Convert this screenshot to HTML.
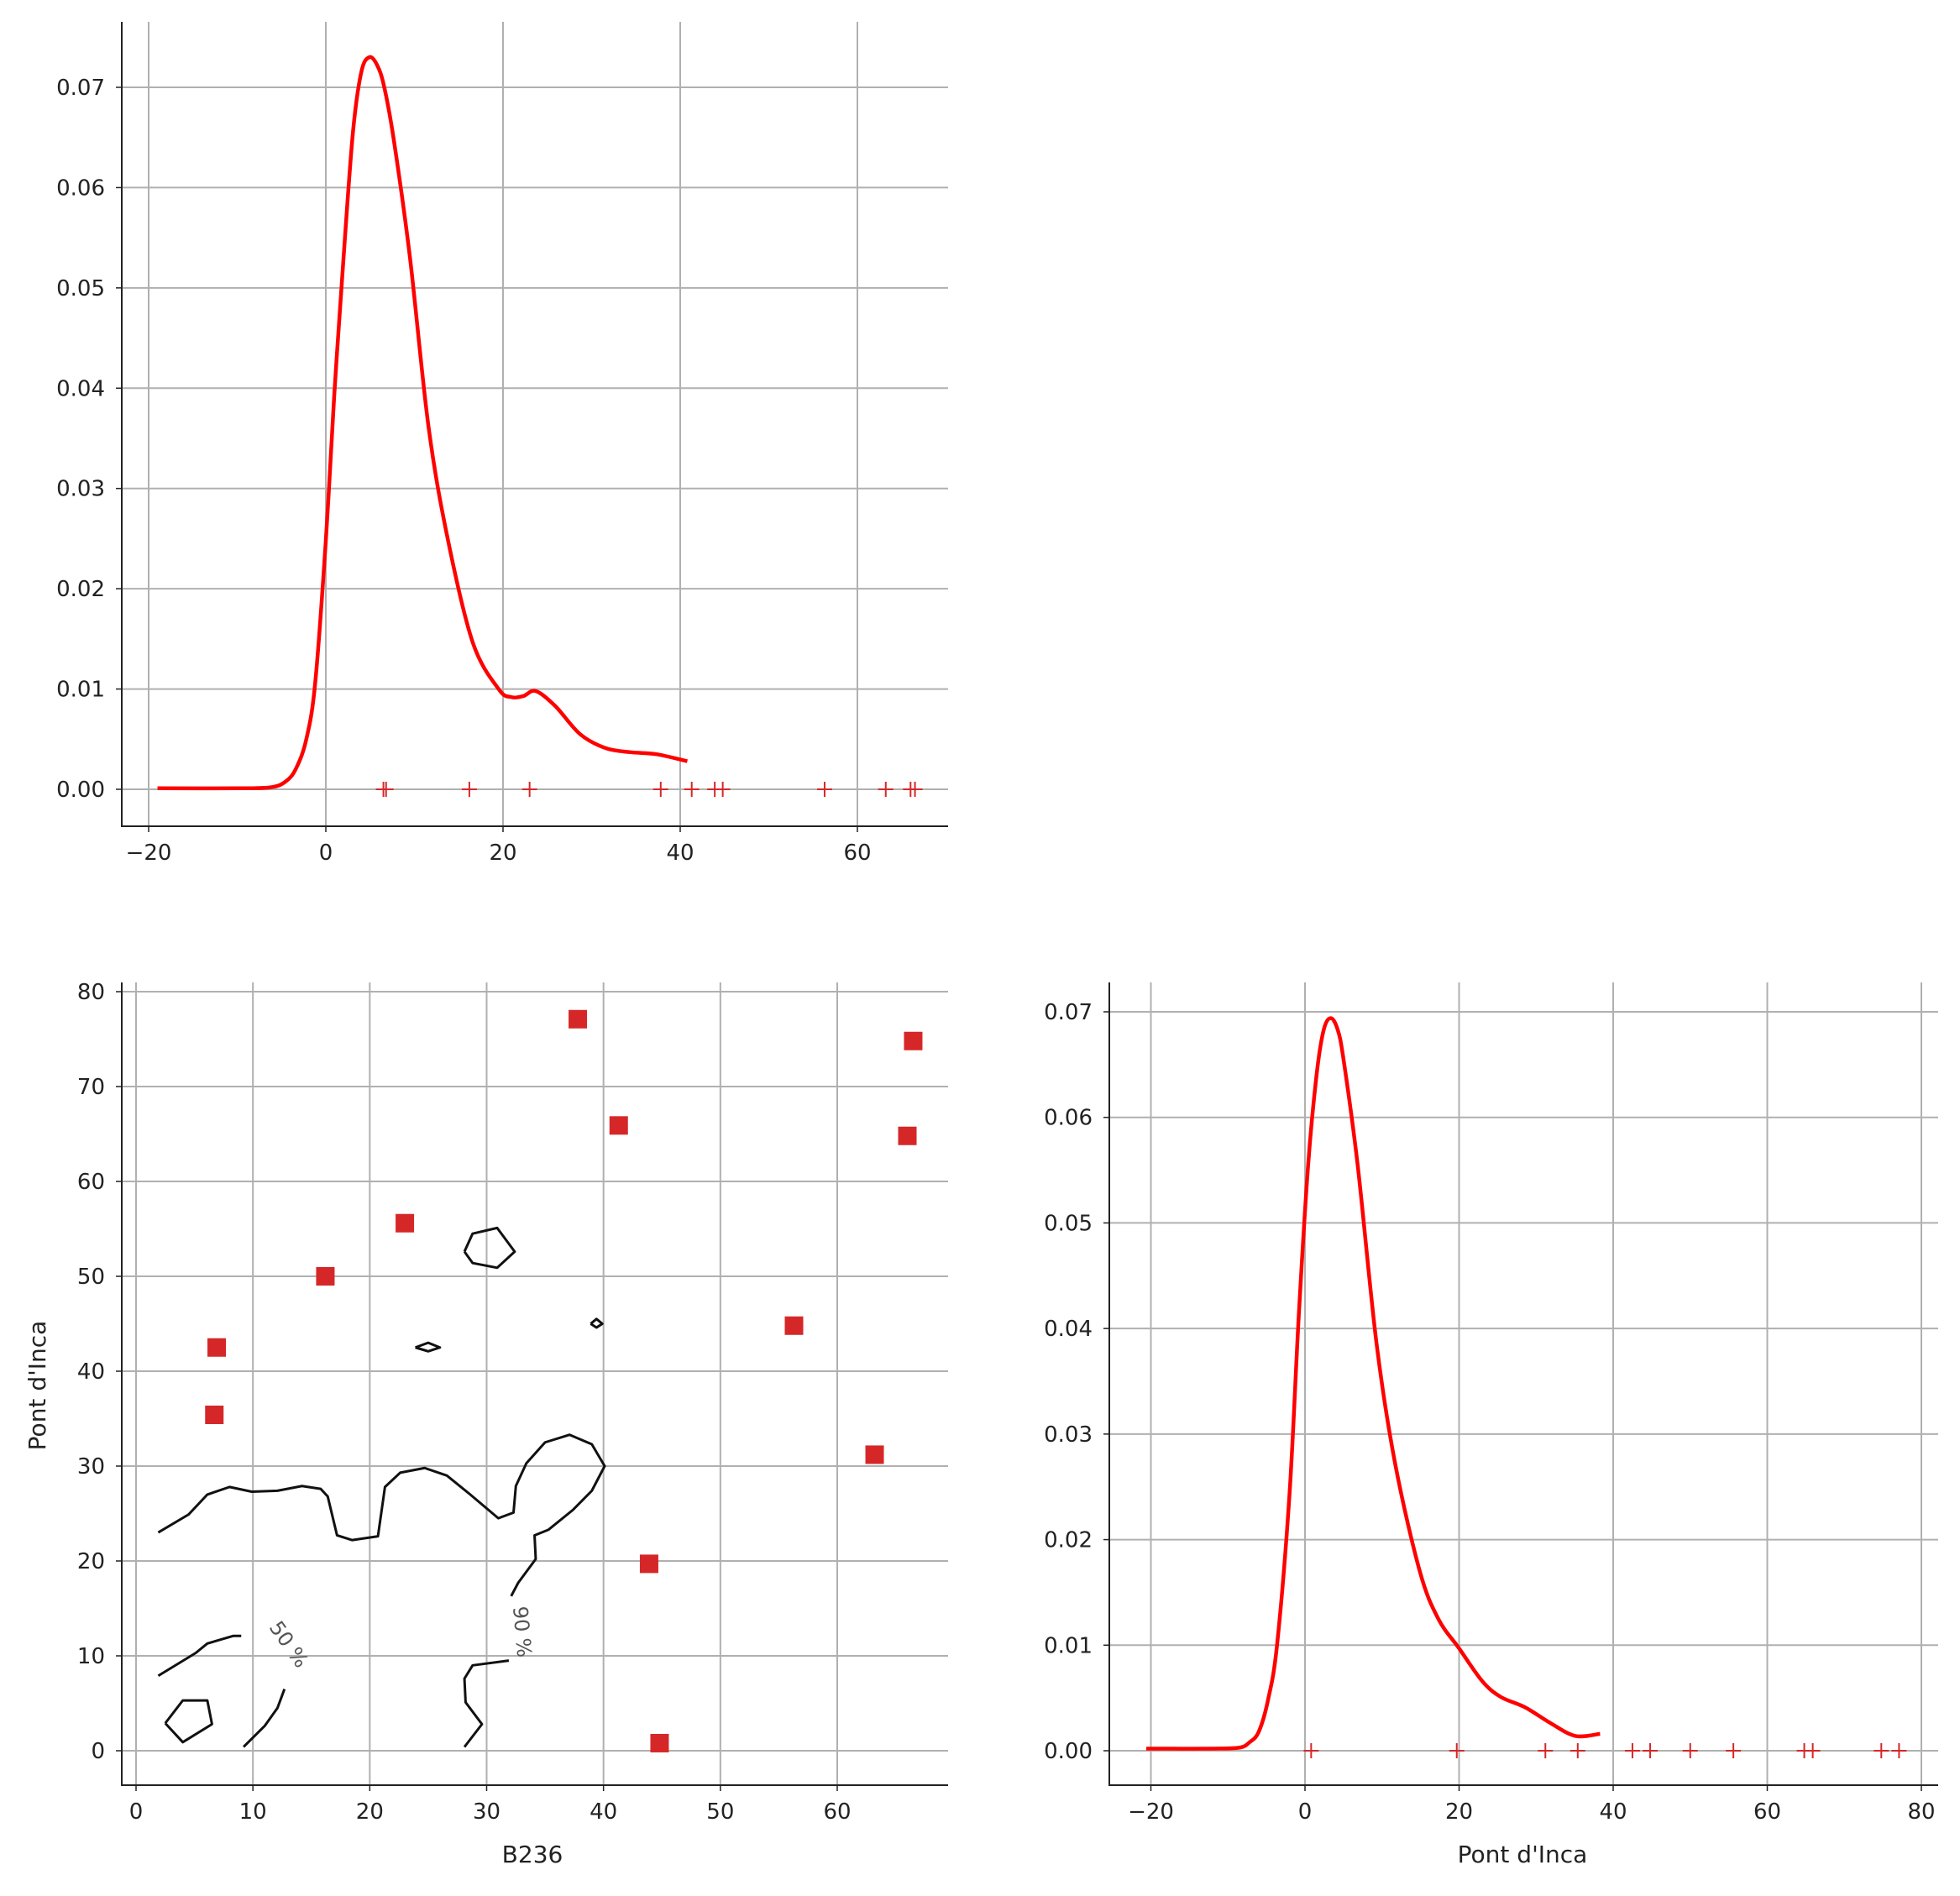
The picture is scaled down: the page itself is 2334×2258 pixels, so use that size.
<!DOCTYPE html>
<html><head><meta charset="utf-8"><style>
html,body{margin:0;padding:0;background:#fff}
svg text{font-family:"DejaVu Sans","Liberation Sans",sans-serif;fill:#222}
</style></head><body>
<svg id="fig" width="2334" height="2253" viewBox="0 0 2334 2253" xmlns="http://www.w3.org/2000/svg">
<rect width="2334" height="2253" fill="#fff"/>
</svg>
<script>
// ---- top KDE (B236)
const kdeTopX=[-19,-10,-6.2,-4.5,-3.35,-2.2,-1.2,0,0.93,2.0,3.06,4.0,4.9,5.8,6.6,7.7,9.5,11.6,13.8,16.6,19.5,20.9,22.3,23.7,25.9,28.7,31.6,34.4,37.3,40.8];
const kdeTopY=[0.0001,0.0001,0.0002,0.0008,0.0021,0.0050,0.0106,0.0248,0.039,0.053,0.0655,0.0715,0.0730,0.0722,0.0700,0.0646,0.053,0.0361,0.0248,0.0146,0.0100,0.0092,0.0093,0.0098,0.0083,0.0055,0.0041,0.0037,0.0035,0.0028];
const b236=[6.5,6.8,16.2,23.0,37.8,41.3,43.9,44.8,56.3,63.2,66.0,66.5];
const pontInca=[0.8,19.7,31.2,35.4,42.5,44.8,50.0,55.6,64.8,65.9,74.8,77.1];
// scatter pairs
const scatX=[37.8,66.5,41.3,66.0,23.0,16.2,56.3,6.9,6.7,63.2,43.9,44.8];
const scatY=[77.1,74.8,65.9,64.8,55.6,50.0,44.8,42.5,35.4,31.2,19.7,0.8];
// right KDE (Pont d'Inca)
const kdeRX=[-20.6,-12,-8.5,-7.2,-6.0,-4.8,-3.6,-2.0,-0.8,0.4,1.5,2.4,3.3,4.2,5.0,6.85,9.3,11.7,14.9,17.3,20.0,23.0,25.4,28.6,31.9,35.1,38.3];
const kdeRY=[0.0002,0.0002,0.0003,0.0008,0.0018,0.0048,0.0102,0.0244,0.0413,0.0554,0.0640,0.0682,0.0694,0.0684,0.0655,0.0554,0.0385,0.0272,0.017,0.0125,0.0097,0.0066,0.0051,0.0041,0.0026,0.0014,0.0016];
// tick labels
const topXTicks=[-20,0,20,40,60];
const densTicks=[0,0.01,0.02,0.03,0.04,0.05,0.06,0.07];
const scXTicks=[0,10,20,30,40,50,60];
const scYTicks=[0,10,20,30,40,50,60,70,80];
const rXTicks=[-20,0,20,40,60,80];
// contours (data coords)
const contour90=[[1.9,23.0],[4.5,24.9],[6.1,27.0],[8.0,27.8],[9.9,27.3],[12.1,27.4],[14.2,27.9],[15.8,27.6],[16.4,26.8],[17.2,22.7],[18.5,22.2],[20.7,22.6],[21.3,27.8],[22.6,29.3],[24.7,29.8],[26.6,29.0],[28.5,27.1],[31.0,24.5],[32.3,25.1],[32.5,27.9],[33.4,30.3],[35.0,32.5],[37.1,33.3],[39.0,32.3],[40.1,30.0],[39.0,27.4],[37.4,25.4],[35.3,23.3],[34.1,22.7],[34.2,20.2],[32.7,17.7],[32.1,16.3]];
const contourB=[[31.9,9.5],[28.8,9.0],[28.1,7.6],[28.2,5.1],[29.6,2.8],[28.1,0.4]];
const contourC=[[1.9,7.9],[5.1,10.3],[6.1,11.3],[8.3,12.1],[9.0,12.1]];
const contourD=[[9.2,0.4],[11.0,2.6],[12.1,4.5],[12.7,6.5]];
const contourE=[[2.5,2.9],[4.0,5.3],[6.1,5.3],[6.5,2.8],[4.0,0.9],[2.5,2.9]];
const contourF=[[28.1,52.6],[28.8,54.5],[30.9,55.1],[32.4,52.6],[30.9,50.9],[28.8,51.4],[28.1,52.6]];
const contourG=[[23.9,42.5],[25.0,43.0],[26.0,42.5],[25.0,42.1],[23.9,42.5]];
const contourH=[[38.9,45.0],[39.4,45.5],[39.9,45.0],[39.4,44.6],[38.9,45.0]];

const NS="http://www.w3.org/2000/svg";
const svg=document.getElementById('fig');
function mk(tag,attrs,parent){const e=document.createElementNS(NS,tag);for(const k in attrs)e.setAttribute(k,attrs[k]);(parent||svg).appendChild(e);return e;}
function lin(d0,d1,p0,p1){return v=>p0+(v-d0)*(p1-p0)/(d1-d0);}
function smooth(pts){let d='M'+pts[0][0]+','+pts[0][1];for(let i=0;i<pts.length-1;i++){const p0=pts[Math.max(0,i-1)],p1=pts[i],p2=pts[i+1],p3=pts[Math.min(pts.length-1,i+2)];const c1=[p1[0]+(p2[0]-p0[0])/6,p1[1]+(p2[1]-p0[1])/6],c2=[p2[0]-(p3[0]-p1[0])/6,p2[1]-(p3[1]-p1[1])/6];d+=`C${c1[0]},${c1[1]} ${c2[0]},${c2[1]} ${p2[0]},${p2[1]}`;}return d;}

function panel(name,box,sx,sy,xt,yt,xfmt,yfmt){
  const g=mk('g',{});
  
  
  xt.forEach(v=>{const l=mk('line',{x1:sx(v),x2:sx(v),y1:box.t,y2:box.b,stroke:'#b0b0b0','stroke-width':2},g);
    
    
    const tk=mk('line',{x1:sx(v),x2:sx(v),y1:box.b,y2:box.b+7,stroke:'#222','stroke-width':1.5},g);
    
    
    const t=mk('text',{x:sx(v),y:box.b+40,'font-size':26,'text-anchor':'middle'},g);t.textContent=xfmt(v);
    
    });
  yt.forEach(v=>{const l=mk('line',{x1:box.l,x2:box.r,y1:sy(v),y2:sy(v),stroke:'#b0b0b0','stroke-width':2},g);
    
    
    const tk=mk('line',{x1:box.l-7,x2:box.l,y1:sy(v),y2:sy(v),stroke:'#222','stroke-width':1.5},g);
    
    
    const t=mk('text',{x:box.l-20,y:sy(v)+9,'font-size':26,'text-anchor':'end'},g);t.textContent=yfmt(v);
    
    });
  const ax=mk('path',{d:`M${box.l},${box.t}V${box.b}H${box.r}`,fill:'none',stroke:'#222','stroke-width':2},g);
  
  
  return g;
}
const minus=v=>String(v).replace('-','\u2212');
const f2=v=>v.toFixed(2);

// ---------- top panel
{const box={l:145,r:1129,t:26,b:984};
 const sx=lin(0,20,388,599), sy=lin(0,0.07,940,104);
 const g=panel('b236-kde-panel',box,sx,sy,topXTicks,densTicks,minus,f2);
 const p=mk('path',{d:smooth(kdeTopX.map((x,i)=>[sx(x),sy(kdeTopY[i])])),fill:'none',stroke:'#ff0000','stroke-width':4.5,'stroke-linejoin':'round'},g);
 
 
 b236.forEach(v=>{const m=mk('path',{d:`M${sx(v)-9},${sy(0)}h18M${sx(v)},${sy(0)-9}v18`,stroke:'#d62728','stroke-width':2},g);
   
   });
}
// ---------- scatter panel
{const box={l:145,r:1129,t:1170,b:2126};
 const sx=lin(0,60,162,997), sy=lin(0,80,2085,1181);
 const g=panel('scatter-contour-panel',box,sx,sy,scXTicks,scYTicks,String,String);
 [contour90,contourB,contourC,contourD,contourE,contourF,contourG,contourH].forEach(c=>{
   const p=mk('path',{d:'M'+c.map(q=>sx(q[0])+','+sy(q[1])).join('L'),fill:'none',stroke:'#111','stroke-width':3,'stroke-linejoin':'round'},g);
   
   });
 const l1=mk('text',{x:sx(12.6),y:sy(10.8),'font-size':24,'text-anchor':'middle',transform:`rotate(55 ${sx(12.6)} ${sy(10.8)})`,style:'fill:#555'},g);l1.textContent='50 %';
 
 
 const l2=mk('text',{x:sx(33.6),y:sy(12.6),'font-size':24,'text-anchor':'middle',transform:`rotate(-95 ${sx(33.6)} ${sy(12.6)}) rotate(180 ${sx(33.6)} ${sy(12.6)-8})`,style:'fill:#555'},g);l2.textContent='90 %';
 
 
 scatX.forEach((x,i)=>{const r=mk('rect',{x:sx(x)-11,y:sy(scatY[i])-11,width:22,height:22,fill:'#d62728'},g);
   
   });
 const xl=mk('text',{x:634,y:2218,'font-size':28,'text-anchor':'middle'},g);xl.textContent='B236';
 
 
 const yl=mk('text',{x:54,y:1650,'font-size':28,'text-anchor':'middle',transform:'rotate(-90 54 1650)'},g);yl.textContent="Pont d'Inca";
 
 
}
// ---------- right KDE panel
{const box={l:1321,r:2308,t:1170,b:2126};
 const sx=lin(0,80,1554,2288), sy=lin(0,0.07,2085,1205);
 const g=panel('pont-inca-kde-panel',box,sx,sy,rXTicks,densTicks,minus,f2);
 const p=mk('path',{d:smooth(kdeRX.map((x,i)=>[sx(x),sy(kdeRY[i])])),fill:'none',stroke:'#ff0000','stroke-width':4.5,'stroke-linejoin':'round'},g);
 
 
 pontInca.forEach(v=>{const m=mk('path',{d:`M${sx(v)-9},${sy(0)}h18M${sx(v)},${sy(0)-9}v18`,stroke:'#d62728','stroke-width':2},g);
   
   });
 const xl=mk('text',{x:1813,y:2218,'font-size':28,'text-anchor':'middle'},g);xl.textContent="Pont d'Inca";
 
 
}
</script>
</body></html>
